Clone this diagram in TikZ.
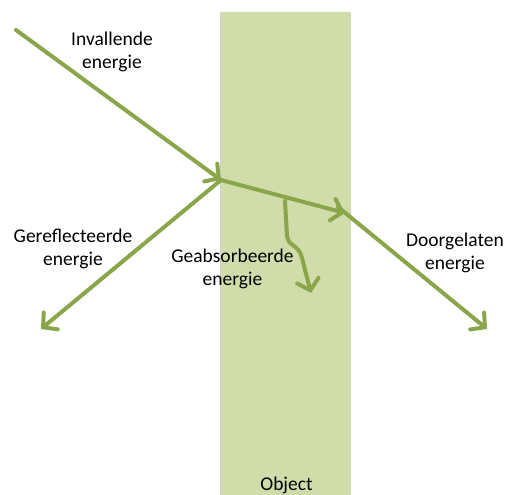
\documentclass[tikz,border=0pt]{standalone}
\usepackage{fontspec}
\setmainfont{Carlito}
\usetikzlibrary{arrows.meta}
\definecolor{arrowgreen}{HTML}{8BA64A}
\definecolor{slabgreen}{HTML}{D0DCAA}
\tikzset{
  ray/.style={draw=arrowgreen, line width=4pt, line cap=round,
    -{Straight Barb[length=10pt,width=22pt,line cap=round]}},
  lbl/.style={align=center, font=\fontsize{19.5}{23}\selectfont, inner sep=0pt},
}
\begin{document}
\begin{tikzpicture}[x=1pt,y=-1pt]
\useasboundingbox (0,0) rectangle (512,495);
% slab
\fill[black!18] (219.5,12.5) rectangle (350,495);
\fill[slabgreen, rounded corners=1.5pt] (221,12) rectangle (351,500);
% points
\coordinate (src) at (16,30);
\coordinate (hit) at (221,180);
\coordinate (refl) at (41,329);
\coordinate (exit) at (345,213);
\coordinate (tstart) at (338,207);
\coordinate (trans) at (487,329);
\coordinate (abs0) at (285,201);
\coordinate (abs1) at (311,293);
% rays
\draw[ray] (src) -- (hit);
\draw[ray] (hit) -- (refl);
\draw[ray] (hit) -- (exit);
\draw[ray] (tstart) -- (trans);
\draw[ray] (abs0) -- (287,236) .. controls (289,248) and (299,244) .. (302,258) -- (abs1);
% labels
\node[lbl] (inv) at (112,52) {Invallende\\energie};
\node[lbl] (ref) at (73,249) {Gereflecteerde\\energie};
\node[lbl] (abs) at (232.5,269) {Geabsorbeerde\\energie};
\node[lbl] (door) at (455,253) {Doorgelaten\\energie};
\node[lbl] (obj) at (286.5,485.5) {Object};
\end{tikzpicture}
\end{document}
